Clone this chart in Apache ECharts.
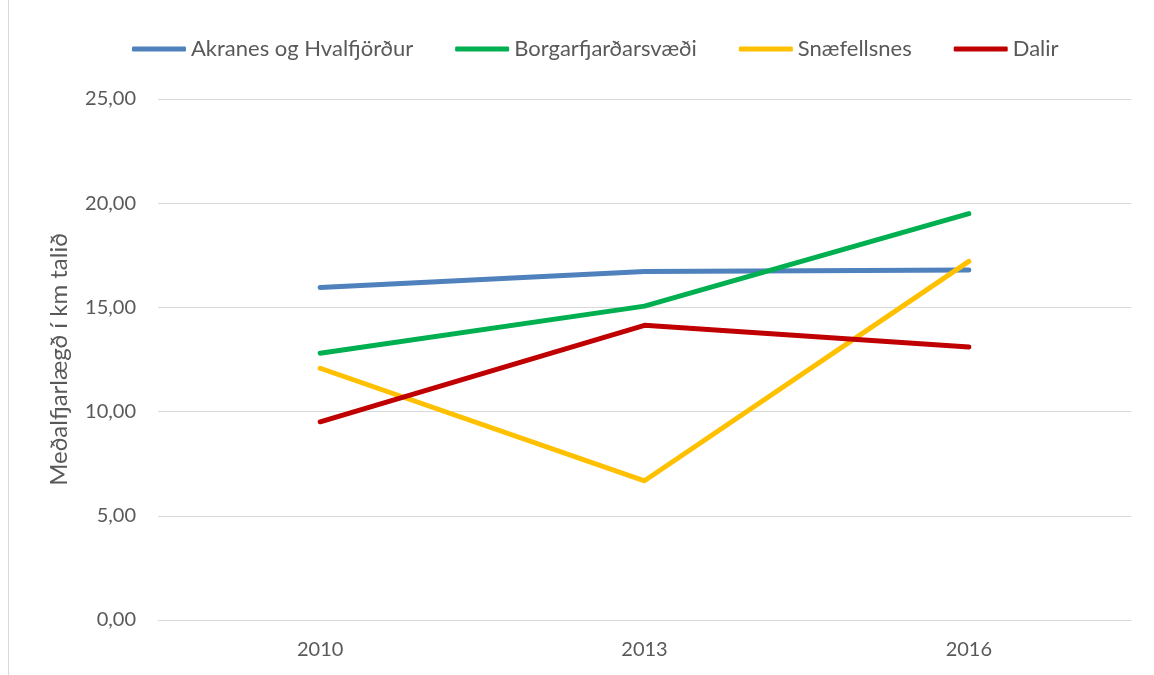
<!DOCTYPE html>
<html>
<head>
<meta charset="utf-8">
<script src="https://cdn.jsdelivr.net/npm/echarts@6/dist/echarts.min.js"></script>
<style>
  html, body { margin: 0; padding: 0; background: #fff; }
  #chart { width: 1154px; height: 675px; }
</style>
</head>
<body>
<div id="chart"></div>
<script>
const years = ["2010", "2013", "2016"];
const akranes = [15.95, 16.72, 16.8];
const borgarfjordur = [12.8, 15.06, 19.5];
const snaefellsnes = [12.08, 6.68, 17.21];
const dalir = [9.51, 14.14, 13.1];

const font = "Lato, sans-serif";
const grey = "#595959";

function line(name, data, color) {
  return {
    name: name,
    type: "line",
    data: data,
    symbol: "none",
    lineStyle: { width: 5, color: color, cap: "round", join: "round" },
    itemStyle: { color: color },
  };
}

const myChart = echarts.init(document.getElementById("chart"));
myChart.setOption({
  animation: false,
  textStyle: { fontFamily: font },
  graphic: [
    {
      type: "line",
      shape: { x1: 8.5, y1: 0, x2: 8.5, y2: 675 },
      style: { stroke: "#d9d9d9", lineWidth: 1 },
    },
  ],
  legend: {
    top: 33,
    left: 127,
    itemWidth: 54,
    itemHeight: 5,
    itemGap: 42,
    icon: "roundRect",
    textStyle: { color: grey, fontSize: 22, fontFamily: font },
  },
  grid: { left: 158, right: 23, top: 99, bottom: 55 },
  xAxis: {
    type: "category",
    data: years,
    axisTick: { show: false },
    axisLine: { lineStyle: { color: "#d9d9d9" } },
    axisLabel: { color: grey, fontSize: 20, margin: 20 },
  },
  yAxis: {
    type: "value",
    min: 0,
    max: 25,
    interval: 5,
    name: "Meðalfjarlægð í km talið",
    nameLocation: "middle",
    nameGap: 87,
    nameTextStyle: { color: grey, fontSize: 24 },
    axisLabel: {
      color: grey,
      fontSize: 20,
      margin: 22,
      formatter: (v) => v.toFixed(2).replace(".", ","),
    },
    splitLine: { lineStyle: { color: "#d9d9d9", width: 1 } },
    axisLine: { show: false },
  },
  series: [
    line("Akranes og Hvalfjörður", akranes, "#4f81bd"),
    line("Borgarfjarðarsvæði", borgarfjordur, "#00b050"),
    line("Snæfellsnes", snaefellsnes, "#ffc000"),
    line("Dalir", dalir, "#c00000"),
  ],
});
</script>
</body>
</html>
